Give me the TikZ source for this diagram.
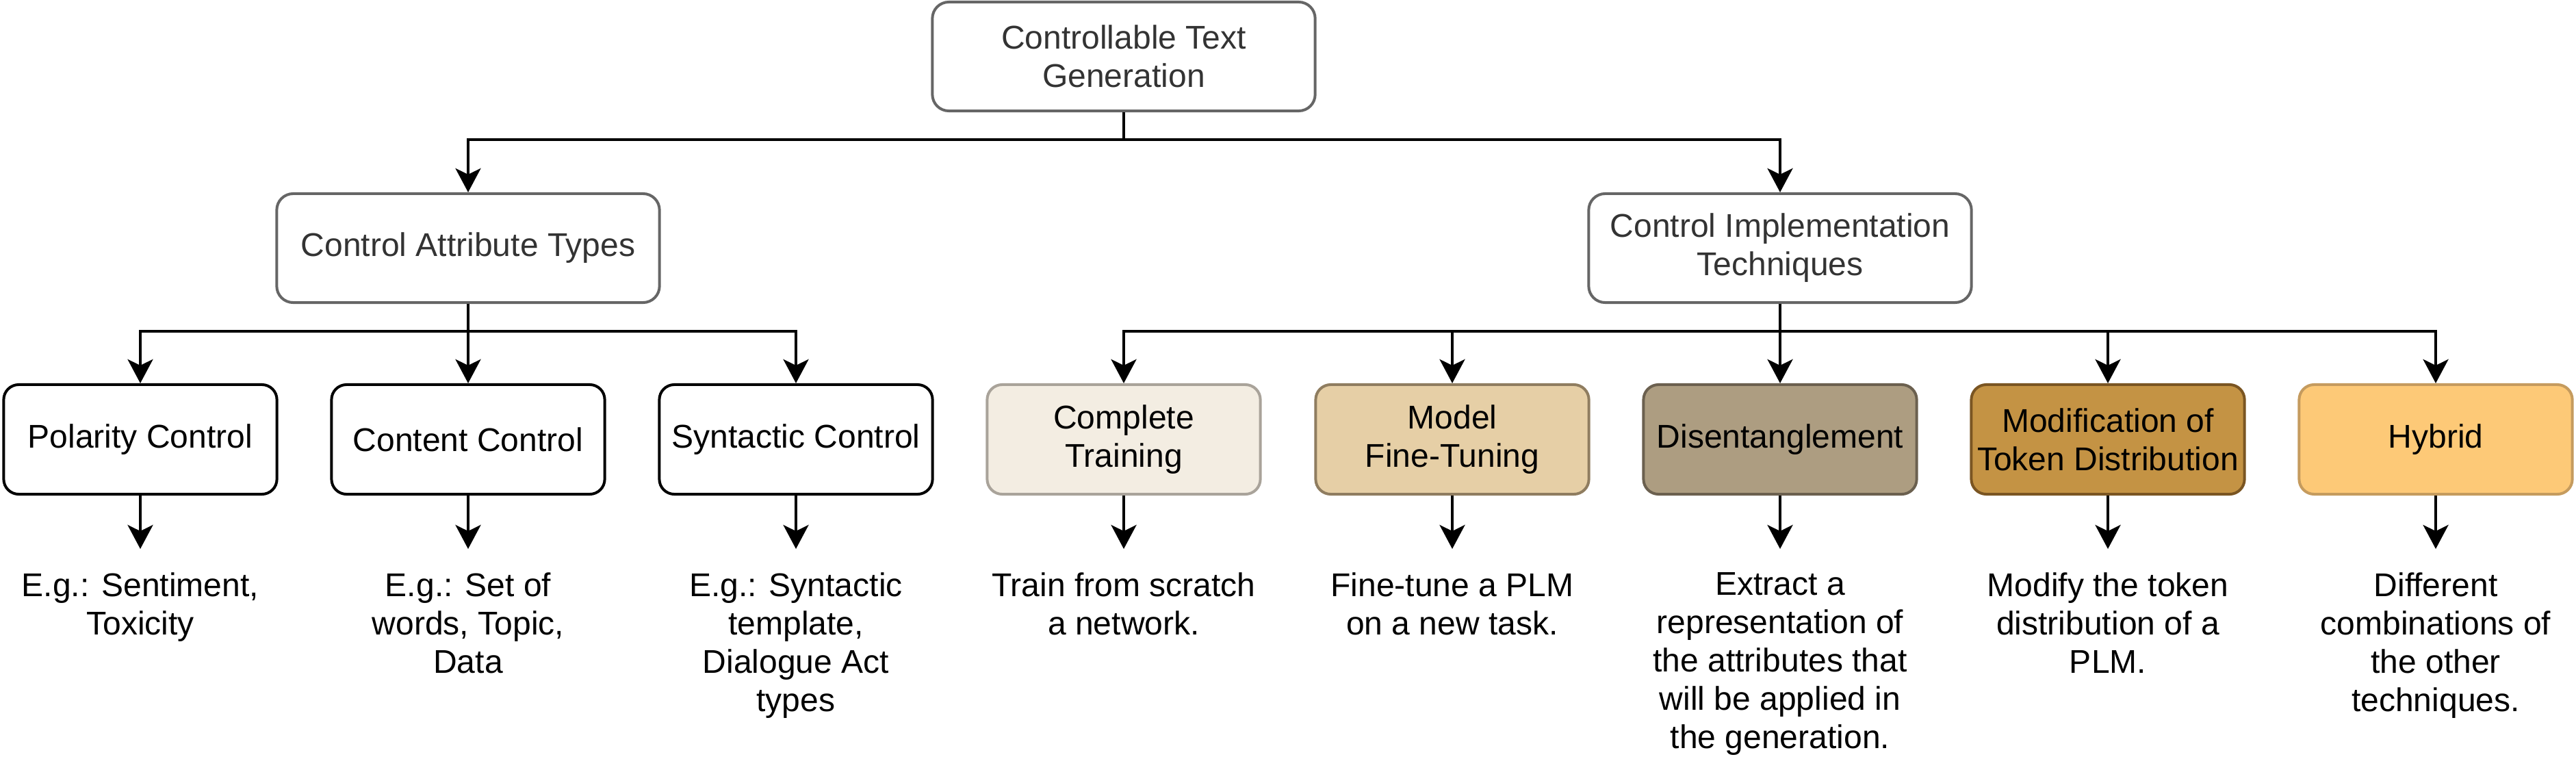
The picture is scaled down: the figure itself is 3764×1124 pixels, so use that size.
\documentclass[tikz,border=0pt]{standalone}
\usepackage{fontspec}
\setmainfont{Liberation Sans}
\usetikzlibrary{arrows.meta}
\definecolor{cgray}{HTML}{666666}
\definecolor{ctext}{HTML}{333333}
\definecolor{ctFill}{HTML}{F3EDE2}
\definecolor{ctDraw}{HTML}{A9A39A}
\definecolor{mfFill}{HTML}{E6CFA6}
\definecolor{mfDraw}{HTML}{8F7D60}
\definecolor{deFill}{HTML}{AD9D81}
\definecolor{deDraw}{HTML}{6B604F}
\definecolor{moFill}{HTML}{C49344}
\definecolor{moDraw}{HTML}{7A5522}
\definecolor{hyFill}{HTML}{FDC977}
\definecolor{hyDraw}{HTML}{C59B5E}
\begin{document}
\begin{tikzpicture}[x=0.01cm,y=-0.01cm,
  every node/.style={font=\fontsize{13.66pt}{15.9pt}\selectfont, align=center},
  hbox/.style={draw=cgray, line width=0.04cm, rounded corners=0.24cm, fill=white, text=ctext,
    minimum width=5.59cm, minimum height=1.59cm, inner sep=0pt},
  lbox/.style={draw=black, line width=0.04cm, rounded corners=0.22cm, fill=white,
    minimum width=3.99cm, minimum height=1.60cm, inner sep=0pt},
  desc/.style={anchor=north, inner sep=0pt},
  arr/.style={line width=0.04cm, -{Stealth[length=0.35cm,width=0.37cm,inset=0.09cm]}},
]
\useasboundingbox (0,0) rectangle (3764,1124);

% level 1 and 2
\node[hbox] (root) at (1642,82.5) {Controllable Text\\Generation};
\node[hbox] (cat) at (684,362.5) {Control Attribute Types};
\node[hbox] (cit) at (2601,362.5) {Control Implementation\\Techniques};

% level 3
\node[lbox] (pol) at (205,642) {Polarity Control};
\node[lbox] (con) at (684,642) {Content Control};
\node[lbox] (syn) at (1163,642) {Syntactic Control};
\node[lbox, fill=ctFill, draw=ctDraw] (ct) at (1642,642) {Complete\\Training};
\node[lbox, fill=mfFill, draw=mfDraw] (mf) at (2122,642) {Model\\Fine-Tuning};
\node[lbox, fill=deFill, draw=deDraw] (de) at (2601,642) {Disentanglement};
\node[lbox, fill=moFill, draw=moDraw] (mo) at (3080,642) {Modification of\\Token Distribution};
\node[lbox, fill=hyFill, draw=hyDraw] (hy) at (3559,642) {Hybrid};

% descriptions
\node[desc] (tpol) at (205,836) {E.g.: Sentiment,\\Toxicity};
\node[desc] (tcon) at (684,836) {E.g.: Set of\\words, Topic,\\Data};
\node[desc] (tsyn) at (1163,836) {E.g.: Syntactic\\template,\\Dialogue Act\\types};
\node[desc] (tct) at (1642,836) {Train from scratch\\a network.};
\node[desc] (tmf) at (2122,836) {Fine-tune a PLM\\on a new task.};
\node[desc] (tde) at (2601,836) {Extract a\\representation of\\the attributes that\\will be applied in\\the generation.};
\node[desc] (tmo) at (3080,836) {Modify the token\\distribution of a\\PLM.};
\node[desc] (thy) at (3559,836) {Different\\combinations of\\the other\\techniques.};

% connectors
\draw[arr] (root.south) -- ++(0,40) -| (cat.north);
\draw[arr] (root.south) -- ++(0,40) -| (cit.north);
\foreach \c in {pol,con,syn}{
  \draw[arr] (cat.south) -- ++(0,40) -| (\c.north);
}
\foreach \c in {ct,mf,de,mo,hy}{
  \draw[arr] (cit.south) -- ++(0,40) -| (\c.north);
}
\foreach \c in {pol,con,syn,ct,mf,de,mo,hy}{
  \draw[arr, shorten >=0.34cm] (\c.south) -- (t\c.north);
}
\end{tikzpicture}
\end{document}
